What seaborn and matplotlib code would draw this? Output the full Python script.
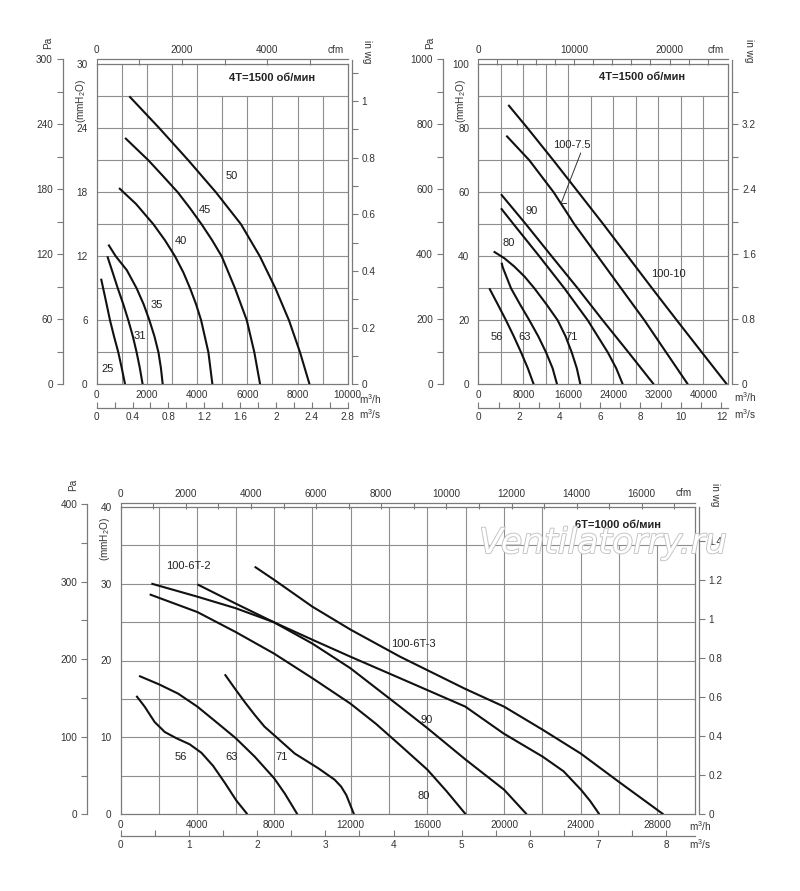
import numpy as np
import pandas as pd
import matplotlib
matplotlib.use("Agg")
import matplotlib.pyplot as plt
import matplotlib.patheffects as pe
import seaborn as sns

# ------------------------------------------------------------------ data
# Panel 1: 4T = 1500 rpm  (flow m3/h, pressure mmH2O)
p1_c25_x = [175, 350, 530, 700, 860, 1000, 1130]
p1_c25_y = [9.9, 8.0, 6.0, 4.4, 3.0, 1.5, 0.0]
p1_c31_x = [425, 620, 840, 1060, 1260, 1440, 1590, 1720, 1830]
p1_c31_y = [12.0, 10.6, 9.0, 7.5, 6.0, 4.5, 3.0, 1.5, 0.0]
p1_c35_x = [465, 760, 1200, 1590, 1870, 2100, 2300, 2460, 2560, 2630]
p1_c35_y = [13.1, 12.0, 10.7, 9.0, 7.5, 6.0, 4.5, 3.0, 1.5, 0.0]
p1_c40_x = [890, 1570, 2260, 2720, 3120, 3450, 3720, 3960, 4160, 4450, 4610]
p1_c40_y = [18.4, 16.9, 15.0, 13.5, 12.0, 10.5, 9.0, 7.5, 6.0, 3.0, 0.0]
p1_c45_x = [1130, 2060, 2650, 3230, 3720, 4180, 4600, 4980, 5510, 5980, 6280, 6510]
p1_c45_y = [23.1, 21.0, 19.5, 18.0, 16.5, 15.0, 13.5, 12.0, 9.0, 6.0, 3.0, 0.0]
p1_c50_x = [1300, 2500, 3650, 4750, 5750, 6500, 7120, 7660, 8100, 8480]
p1_c50_y = [27.0, 24.0, 21.0, 18.0, 15.0, 12.0, 9.0, 6.0, 3.0, 0.0]
p1_labels = ["50", "45", "40", "35", "31", "25"]
p1_label_x = [5380, 4320, 3360, 2390, 1730, 440]
p1_label_y = [19.5, 16.3, 13.4, 7.4, 4.5, 1.4]

# Panel 2: 4T = 1500 rpm
p2_c56_x = [1960, 3450, 4920, 6300, 7590, 8800, 9840]
p2_c56_y = [30.0, 25.0, 20.0, 15.0, 10.0, 5.0, 0.0]
p2_c63_x = [4150, 4300, 4530, 5810, 7400, 9070, 10650, 12030, 13200, 13990]
p2_c63_y = [38.0, 36.8, 35.7, 30.0, 25.0, 20.0, 15.0, 10.0, 5.0, 0.0]
p2_c71_x = [2730, 4620, 6400, 8250, 9960, 12100, 14100, 15500, 16590, 17500, 18130]
p2_c71_y = [41.5, 39.4, 36.8, 33.6, 30.0, 25.0, 20.0, 15.0, 10.0, 5.0, 0.0]
p2_c80_x = [4030, 6280, 10840, 15290, 19440, 22990, 24500, 25660]
p2_c80_y = [55.0, 50.0, 40.0, 30.0, 20.0, 10.0, 5.0, 0.0]
p2_c90_x = [4030, 8470, 13040, 17660, 22100, 26670, 31170]
p2_c90_y = [59.4, 50.0, 40.0, 30.0, 20.0, 10.0, 0.0]
p2_c1075_x = [4980, 9070, 13390, 17070, 21220, 25360, 29510, 33360, 37220]
p2_c1075_y = [77.7, 70.0, 60.0, 50.0, 40.0, 30.0, 20.0, 10.0, 0.0]
p2_c10010_x = [5330, 8770, 13330, 17780, 22220, 26550, 30870, 35260, 39700, 44150]
p2_c10010_y = [87.3, 80.0, 70.0, 60.0, 50.0, 40.0, 30.0, 20.0, 10.0, 0.0]
p2_labels = ["100-7.5", "90", "80", "56", "63", "71", "100-10"]
p2_label_x = [16590, 9490, 5330, 3270, 8300, 16590, 33750]
p2_label_y = [74.8, 54.3, 44.2, 14.9, 14.9, 14.9, 34.5]
p2_leader_x = [18200, 14700, 15700]
p2_leader_y = [72.3, 56.5, 56.5]

# Panel 3: 6T = 1000 rpm
p3_c56_x = [817, 1250, 1770, 2300, 2900, 3600, 4210, 4820, 5430, 6030, 6610]
p3_c56_y = [15.4, 14.0, 12.0, 10.7, 9.9, 9.1, 8.0, 6.3, 4.1, 1.8, 0.0]
p3_c63_x = [956, 2000, 2990, 4000, 5080, 6000, 6990, 8000, 8560, 9217]
p3_c63_y = [18.0, 16.9, 15.7, 14.0, 11.8, 9.9, 7.5, 4.7, 2.7, 0.0]
p3_c71_x = [5430, 6000, 6500, 7000, 7500, 8000, 9080, 10300, 11160, 11500, 11770, 12170]
p3_c71_y = [18.2, 16.2, 14.5, 12.9, 11.4, 10.3, 7.9, 6.0, 4.5, 3.6, 2.5, 0.0]
p3_c80_x = [1510, 4000, 6000, 8000, 10000, 11980, 13300, 14570, 16000, 17000, 18000]
p3_c80_y = [28.6, 26.3, 23.7, 20.9, 17.7, 14.4, 11.8, 9.0, 5.8, 3.0, 0.0]
p3_c90_x = [4000, 6000, 7970, 10000, 11980, 14570, 16000, 18000, 20000, 21180]
p3_c90_y = [29.9, 27.4, 25.0, 22.2, 19.0, 14.0, 11.2, 7.1, 3.2, 0.0]
p3_c6t2_x = [1600, 4000, 6000, 7970, 10000, 11980, 14570, 17980, 19980, 22010, 23100, 24010, 24500, 24970]
p3_c6t2_y = [30.0, 28.3, 26.8, 25.0, 22.7, 20.5, 17.7, 14.0, 10.5, 7.5, 5.6, 3.2, 1.7, 0.0]
p3_c6t3_x = [6990, 8000, 10000, 12000, 14570, 17980, 20000, 22010, 24000, 26000, 28310]
p3_c6t3_y = [32.2, 30.5, 27.0, 24.0, 20.5, 16.3, 14.0, 11.0, 7.9, 4.2, 0.0]
p3_labels = ["100-6T-2", "100-6T-3", "90", "80", "56", "63", "71"]
p3_label_x = [3510, 15250, 15960, 15790, 3160, 5770, 8380]
p3_label_y = [32.3, 22.2, 12.3, 2.4, 7.4, 7.4, 7.4]

# axis ticks
p1_mh_ticks = [0, 2000, 4000, 6000, 8000, 10000]
p1_mm_ticks = [0, 6, 12, 18, 24, 30]
p1_pa_ticks = [0, 60, 120, 180, 240, 300]
p1_pa_minor = [30, 90, 150, 210, 270]
p1_wg_ticks = [0, 0.2, 0.4, 0.6, 0.8, 1]
p1_wg_labels = ["0", "0.2", "0.4", "0.6", "0.8", "1"]
p1_wg_minor = [0.1, 0.3, 0.5, 0.7, 0.9, 1.1]
p1_cfm_ticks = [0, 2000, 4000]
p1_cfm_minor = [1000, 3000, 5000]
p1_s_ticks = [0, 0.4, 0.8, 1.2, 1.6, 2.0, 2.4, 2.8]
p1_s_labels = ["0", "0.4", "0.8", "1.2", "1.6", "2", "2.4", "2.8"]
p1_s_minor = [0.2, 0.6, 1.0, 1.4, 1.8, 2.2, 2.6]

p2_mh_ticks = [0, 8000, 16000, 24000, 32000, 40000]
p2_mm_ticks = [0, 20, 40, 60, 80, 100]
p2_pa_ticks = [0, 200, 400, 600, 800, 1000]
p2_pa_minor = [100, 300, 500, 700, 900]
p2_wg_ticks = [0, 0.8, 1.6, 2.4, 3.2]
p2_wg_labels = ["0", "0.8", "1.6", "2.4", "3.2"]
p2_wg_minor = [0.4, 1.2, 2.0, 2.8, 3.6]
p2_cfm_ticks = [0, 10000, 20000]
p2_cfm_minor = [2000, 4000, 6000, 8000, 12000, 14000, 16000, 18000, 22000, 24000]
p2_s_ticks = [0, 2, 4, 6, 8, 10, 12]
p2_s_minor = [1, 3, 5, 7, 9, 11]

p3_mh_ticks = [0, 4000, 8000, 12000, 16000, 20000, 24000, 28000]
p3_mm_ticks = [0, 10, 20, 30, 40]
p3_pa_ticks = [0, 100, 200, 300, 400]
p3_pa_minor = [50, 150, 250, 350]
p3_wg_ticks = [0, 0.2, 0.4, 0.6, 0.8, 1.0, 1.2, 1.4]
p3_wg_labels = ["0", "0.2", "0.4", "0.6", "0.8", "1", "1.2", "1.4"]
p3_cfm_ticks = [0, 2000, 4000, 6000, 8000, 10000, 12000, 14000, 16000]
p3_cfm_minor = [1000, 3000, 5000, 7000, 9000, 11000, 13000, 15000, 17000]
p3_s_ticks = [0, 1, 2, 3, 4, 5, 6, 7, 8]
p3_s_minor = [0.5, 1.5, 2.5, 3.5, 4.5, 5.5, 6.5, 7.5]

# ------------------------------------------------------------------ style
sns.set_theme(style="white")
plt.rcParams['font.family'] = ['Liberation Sans', 'DejaVu Sans']
plt.rcParams['mathtext.fontset'] = 'custom'
plt.rcParams['mathtext.rm'] = 'Liberation Sans'
plt.rcParams['mathtext.it'] = 'Liberation Sans'

W, H = 800, 891
fig = plt.figure(figsize=(W / 100, H / 100), dpi=100)
fig.patch.set_facecolor('white')

GRID = '#8e8e8e'
SPINE = '#7a7a7a'
TXT = '#333333'
FS = 7.2


def fx(px):
    return px / W


def fy(py):
    return 1 - py / H


def main_axes(l, r, t, b, xlim, ylim, xticks, yticks, vgrid, hgrid, box):
    ax = fig.add_axes([fx(l), fy(b), (r - l) / W, (b - t) / H])
    ax.set_xlim(*xlim)
    ax.set_ylim(*ylim)
    for s in ax.spines.values():
        s.set_visible(True)
        s.set_color(SPINE)
        s.set_linewidth(0.9)
    bx, by = box
    for x in vgrid:
        top = by if x > bx + 1 else ylim[1]
        ax.vlines(x, ylim[0], top, color=GRID, lw=0.8, zorder=0.5)
    for y in hgrid:
        ax.hlines(y, xlim[0], xlim[1], color=GRID, lw=0.8, zorder=0.5)
    ax.set_xticks(xticks, labels=[str(v) for v in xticks])
    ax.set_yticks(yticks, labels=[str(v) for v in yticks])
    ax.tick_params(axis='x', length=0, pad=4, labelsize=FS, labelcolor=TXT,
                   bottom=True, labelbottom=True)
    ax.tick_params(axis='y', length=0, pad=6.5, labelsize=FS, labelcolor=TXT,
                   left=True, labelleft=True)
    ax.set_xlabel('')
    ax.set_ylabel('')
    return ax


def v_scale(x, top, bottom, lim, ticks, labels, minor, side):
    w = 0.002
    left = fx(x) if side == 'left' else fx(x) - w
    ax = fig.add_axes([left, fy(bottom), w, (bottom - top) / H])
    ax.patch.set_visible(False)
    for k, s in ax.spines.items():
        s.set_visible(k == side)
        s.set_color(SPINE)
        s.set_linewidth(0.9)
    ax.set_ylim(*lim)
    ax.xaxis.set_visible(False)
    ax.yaxis.set_ticks_position(side)
    ax.set_yticks(ticks, labels=labels)
    ax.set_yticks(minor, minor=True)
    kw = dict(left=(side == 'left'), right=(side == 'right'),
              labelleft=(side == 'left'), labelright=(side == 'right'))
    ax.tick_params(axis='y', which='both', direction='out', length=4, width=0.8,
                   color=SPINE, labelsize=FS, labelcolor=TXT, pad=3, **kw)
    return ax


def h_scale(y, l, r, lim, ticks, labels, minor, side):
    h = 0.002
    bottom = fy(y) - h if side == 'top' else fy(y)
    ax = fig.add_axes([fx(l), bottom, (r - l) / W, h])
    ax.patch.set_visible(False)
    for k, s in ax.spines.items():
        s.set_visible(k == side)
        s.set_color(SPINE)
        s.set_linewidth(0.9)
    ax.set_xlim(*lim)
    ax.yaxis.set_visible(False)
    ax.xaxis.set_ticks_position(side)
    ax.set_xticks(ticks, labels=labels)
    ax.set_xticks(minor, minor=True)
    kw = dict(top=(side == 'top'), bottom=(side == 'bottom'),
              labeltop=(side == 'top'), labelbottom=(side == 'bottom'))
    ax.tick_params(axis='x', which='both', direction='in', length=4, width=0.8,
                   color=SPINE, labelsize=FS, labelcolor=TXT, pad=3, **kw)
    return ax


def curves_df(curves):
    rows = []
    for name, (xs, ys) in curves.items():
        for x, y in zip(xs, ys):
            rows.append((name, x, y))
    return pd.DataFrame(rows, columns=['curve', 'flow', 'pressure'])


def draw_curves(ax, curves):
    df = curves_df(curves)
    sns.lineplot(data=df, x='flow', y='pressure', units='curve', estimator=None,
                 color='#111111', lw=1.5, ax=ax, legend=False, zorder=3,
                 solid_joinstyle='round', solid_capstyle='butt')
    ax.set_xlabel('')
    ax.set_ylabel('')


def unit_texts(items):
    for (px, py, s, kw) in items:
        fig.text(fx(px), fy(py), s, fontsize=FS, color=TXT, **kw)


# ------------------------------------------------------------------ panel 1
ax1 = main_axes(96.7, 347.7, 64.3, 384.3, (0, 10000), (0, 30),
                p1_mh_ticks, p1_mm_ticks,
                list(range(1000, 10000, 1000)), list(range(3, 30, 3)), (4000, 27))
draw_curves(ax1, {"25": (p1_c25_x, p1_c25_y), "31": (p1_c31_x, p1_c31_y),
                  "35": (p1_c35_x, p1_c35_y), "40": (p1_c40_x, p1_c40_y),
                  "45": (p1_c45_x, p1_c45_y), "50": (p1_c50_x, p1_c50_y)})
for s, x, y in zip(p1_labels, p1_label_x, p1_label_y):
    ax1.text(x, y, s, fontsize=8, color='#222', ha='center', va='center', zorder=4)
ax1.text(6970, 28.75, "4T=1500 об/мин", fontsize=8, fontweight='bold',
         color='#222', ha='center', va='center')
v_scale(62.7, 59.3, 384.3, (0, 300), p1_pa_ticks, [str(v) for v in p1_pa_ticks], p1_pa_minor, 'left')
v_scale(351.7, 60.0, 384.3, (0, 1.1447), p1_wg_ticks, p1_wg_labels, p1_wg_minor, 'right')
h_scale(59.3, 96.7, 347.7, (0, 5886), p1_cfm_ticks, [str(v) for v in p1_cfm_ticks], p1_cfm_minor, 'top')
h_scale(407.7, 96.7, 347.7, (0, 2.8), p1_s_ticks, p1_s_labels, p1_s_minor, 'bottom')
unit_texts([
    (336, 50, "cfm", dict(ha='center', va='center')),
    (48.3, 43.3, "Pa", dict(ha='center', va='center', rotation=90)),
    (366.7, 51.7, "in wg", dict(ha='center', va='center', rotation=270)),
    (80.5, 100.7, "(mmH$_2$O)", dict(ha='center', va='center', rotation=90)),
    (359, 399, "m$^3$/h", dict(ha='left', va='center')),
    (359, 414.3, "m$^3$/s", dict(ha='left', va='center')),
])

# ------------------------------------------------------------------ panel 2
ax2 = main_axes(478.3, 727.7, 64.3, 384.3, (0, 44300), (0, 100),
                p2_mh_ticks, p2_mm_ticks,
                list(range(4000, 44000, 4000)), list(range(10, 100, 10)), (16000, 90))
draw_curves(ax2, {"56": (p2_c56_x, p2_c56_y), "63": (p2_c63_x, p2_c63_y),
                  "71": (p2_c71_x, p2_c71_y), "80": (p2_c80_x, p2_c80_y),
                  "90": (p2_c90_x, p2_c90_y), "100-7.5": (p2_c1075_x, p2_c1075_y),
                  "100-10": (p2_c10010_x, p2_c10010_y)})
for s, x, y in zip(p2_labels, p2_label_x, p2_label_y):
    ax2.text(x, y, s, fontsize=8, color='#222', ha='center', va='center', zorder=4)
ax2.plot(p2_leader_x, p2_leader_y, color='#333333', lw=0.7, zorder=3)
ax2.text(29000, 95.9, "4T=1500 об/мин", fontsize=8, fontweight='bold',
         color='#222', ha='center', va='center')
v_scale(442.7, 59.3, 384.3, (0, 1000), p2_pa_ticks, [str(v) for v in p2_pa_ticks], p2_pa_minor, 'left')
v_scale(732.3, 60.0, 384.3, (0, 3.99), p2_wg_ticks, p2_wg_labels, p2_wg_minor, 'right')
h_scale(59.3, 478.3, 727.7, (0, 26074), p2_cfm_ticks, [str(v) for v in p2_cfm_ticks], p2_cfm_minor, 'top')
h_scale(407.7, 478.3, 727.7, (0, 12.31), p2_s_ticks, [str(v) for v in p2_s_ticks], p2_s_minor, 'bottom')
unit_texts([
    (716, 50, "cfm", dict(ha='center', va='center')),
    (430, 43.3, "Pa", dict(ha='center', va='center', rotation=90)),
    (749.3, 50.7, "in wg", dict(ha='center', va='center', rotation=270)),
    (461, 100.7, "(mmH$_2$O)", dict(ha='center', va='center', rotation=90)),
    (734, 397, "m$^3$/h", dict(ha='left', va='center')),
    (734, 414.3, "m$^3$/s", dict(ha='left', va='center')),
])

# ------------------------------------------------------------------ panel 3
ax3 = main_axes(120.7, 695.0, 506.7, 814.3, (0, 29960), (0, 40),
                p3_mh_ticks, p3_mm_ticks,
                list(range(2000, 30000, 2000)), list(range(5, 40, 5)), (22000, 35))
draw_curves(ax3, {"56": (p3_c56_x, p3_c56_y), "63": (p3_c63_x, p3_c63_y),
                  "71": (p3_c71_x, p3_c71_y), "80": (p3_c80_x, p3_c80_y),
                  "90": (p3_c90_x, p3_c90_y), "100-6T-2": (p3_c6t2_x, p3_c6t2_y),
                  "100-6T-3": (p3_c6t3_x, p3_c6t3_y)})
for s, x, y in zip(p3_labels, p3_label_x, p3_label_y):
    ax3.text(x, y, s, fontsize=8, color='#222', ha='center', va='center', zorder=4)
ax3.text(25960, 37.6, "6T=1000 об/мин", fontsize=8, fontweight='bold',
         color='#222', ha='center', va='center')
v_scale(87.3, 504.0, 814.3, (0, 400), p3_pa_ticks, [str(v) for v in p3_pa_ticks], p3_pa_minor, 'left')
v_scale(699.0, 506.7, 814.3, (0, 1.575), p3_wg_ticks, p3_wg_labels, [], 'right')
h_scale(502.7, 120.7, 695.0, (0, 17633), p3_cfm_ticks, [str(v) for v in p3_cfm_ticks], p3_cfm_minor, 'top')
h_scale(836.0, 120.7, 695.0, (0, 8.42), p3_s_ticks, [str(v) for v in p3_s_ticks], p3_s_minor, 'bottom')
unit_texts([
    (683.3, 492.7, "cfm", dict(ha='center', va='center')),
    (73.3, 485, "Pa", dict(ha='center', va='center', rotation=90)),
    (715, 495, "in wg", dict(ha='center', va='center', rotation=270)),
    (105, 539, "(mmH$_2$O)", dict(ha='center', va='center', rotation=90)),
    (689.3, 826.5, "m$^3$/h", dict(ha='left', va='center')),
    (689.3, 844, "m$^3$/s", dict(ha='left', va='center')),
])

# watermark (drawn over the chart, as in the reference)
fig.text(fx(603), fy(553), "Ventilatorry.ru", fontsize=25, style='italic',
         family=['DejaVu Sans'], color='white', ha='center', va='baseline', zorder=20,
         path_effects=[pe.withStroke(linewidth=1.3, foreground='#c2c2c2')])

fig.savefig("out.png", dpi=100, facecolor='white')
